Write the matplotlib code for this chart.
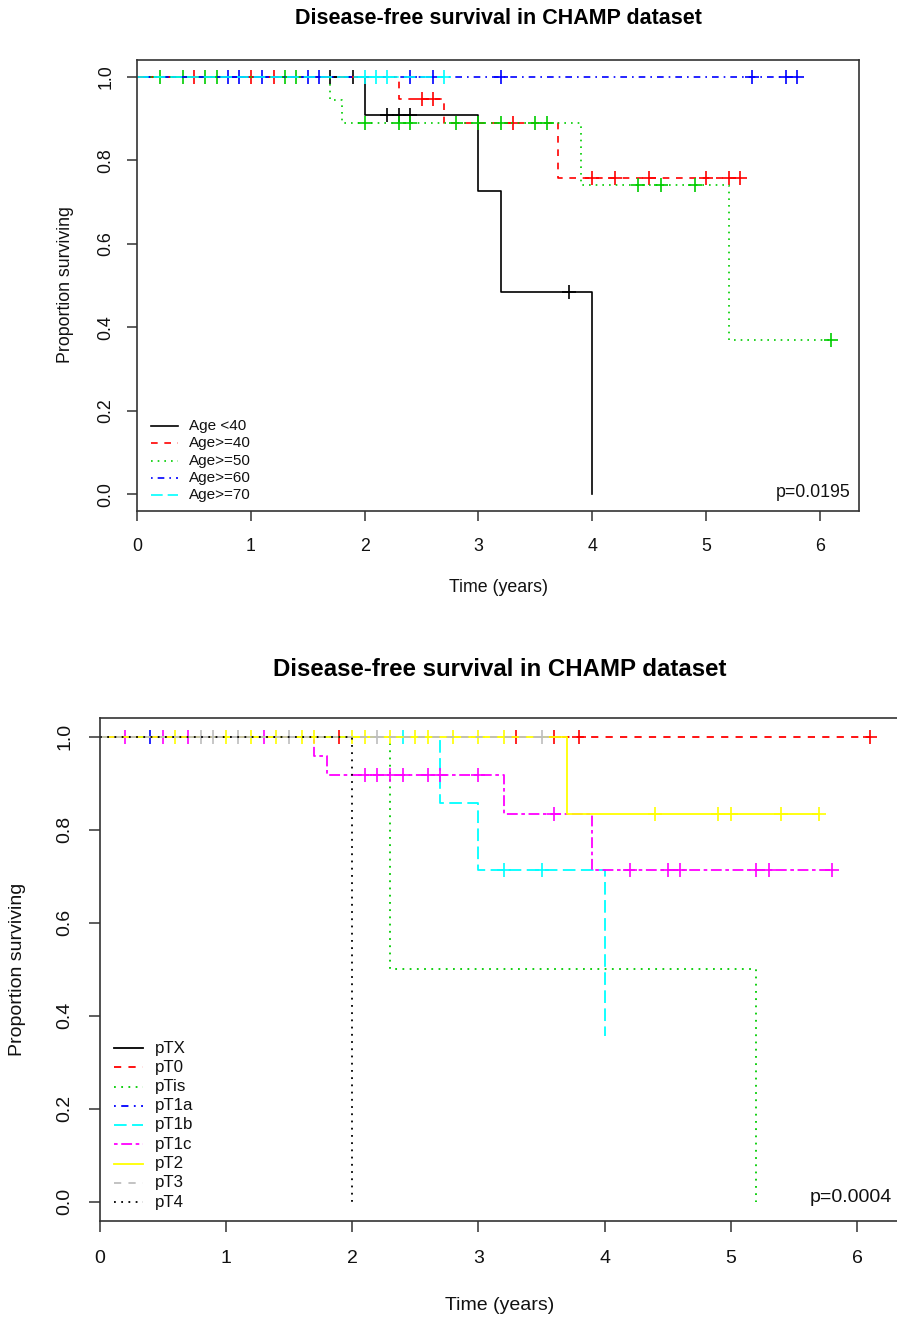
import numpy as np
import matplotlib
matplotlib.use("Agg")
import matplotlib.pyplot as plt
from matplotlib.lines import Line2D

plt.rcParams['font.family'] = ['Liberation Sans', 'DejaVu Sans']

W, H = 897, 1320
DPI = 100

# ---------------- data: top panel (Age groups) ----------------
age_labels = ["Age <40", "Age>=40", "Age>=50", "Age>=60", "Age>=70"]
age_colors = ["#000000", "#FF0000", "#00CD00", "#0000FF", "#00FFFF"]

age_lt40_events = [2.0, 3.0, 3.2, 4.0]
age_lt40_surv = [0.909, 0.727, 0.485, 0.0]
age_lt40_censor = [1.7, 1.9, 2.2, 2.3, 2.4, 3.8]
age_lt40_end = 4.0

age40_events = [2.3, 2.7, 3.7]
age40_surv = [0.947, 0.888, 0.758]
age40_censor = [0.5, 1.0, 1.2, 2.5, 2.6, 3.3, 4.0, 4.2, 4.5, 5.0, 5.2, 5.3]
age40_end = 5.3

age50_events = [1.7, 1.8, 3.9, 5.2]
age50_surv = [0.944, 0.889, 0.741, 0.370]
age50_censor = [0.2, 0.4, 0.6, 0.7, 1.3, 1.4, 2.0, 2.3, 2.4, 2.8, 3.0, 3.2,
                3.5, 3.6, 4.4, 4.6, 4.9, 6.1]
age50_end = 6.1

age60_events = []
age60_surv = []
age60_censor = [0.8, 0.9, 1.1, 1.5, 1.6, 2.4, 2.6, 3.2, 5.4, 5.7, 5.8]
age60_end = 5.8

age70_events = []
age70_surv = []
age70_censor = [2.0, 2.1, 2.2, 2.7]
age70_end = 2.7

# ---------------- data: bottom panel (pT stage) ----------------
pt_labels = ["pTX", "pT0", "pTis", "pT1a", "pT1b", "pT1c", "pT2", "pT3", "pT4"]
pt_colors = ["#000000", "#FF0000", "#00CD00", "#0000FF", "#00FFFF",
             "#FF00FF", "#FFFF00", "#BEBEBE", "#000000"]

ptx_events, ptx_surv, ptx_censor, ptx_end = [], [], [], 1.9
pt0_events, pt0_surv = [], []
pt0_censor = [1.9, 3.3, 3.6, 3.8, 6.1]
pt0_end = 6.1
ptis_events, ptis_surv, ptis_censor, ptis_end = [2.3, 5.2], [0.5, 0.0], [], 5.2
pt1a_events, pt1a_surv, pt1a_censor, pt1a_end = [], [], [0.4], 0.4
pt1b_events = [2.7, 3.0, 4.0]
pt1b_surv = [0.857, 0.714, 0.357]
pt1b_censor = [2.4, 3.2, 3.5]
pt1b_end = 4.0
pt1c_events = [1.7, 1.8, 3.2, 3.9]
pt1c_surv = [0.958, 0.917, 0.833, 0.714]
pt1c_censor = [0.2, 0.5, 0.7, 1.3, 2.1, 2.2, 2.3, 2.4, 2.6, 2.7, 3.0, 3.6,
               4.2, 4.5, 4.6, 5.2, 5.3, 5.8]
pt1c_end = 5.8
pt2_events = [3.7]
pt2_surv = [0.833]
pt2_censor = [0.6, 1.0, 1.2, 1.4, 1.6, 1.7, 2.0, 2.1, 2.3, 2.5, 2.6, 2.8,
              3.0, 3.2, 4.4, 4.9, 5.0, 5.4, 5.7]
pt2_end = 5.7
pt3_events, pt3_surv = [], []
pt3_censor = [0.8, 0.9, 1.1, 1.5, 2.2, 3.5]
pt3_end = 3.5
pt4_events, pt4_surv, pt4_censor, pt4_end = [2.0], [0.0], [], 2.0

title_text = "Disease-free survival in CHAMP dataset"
xlabel_text = "Time (years)"
ylabel_text = "Proportion surviving"
p_top = "p=0.0195"
p_bottom = "p=0.0004"
x_ticks = [0, 1, 2, 3, 4, 5, 6]
y_ticks = [0.0, 0.2, 0.4, 0.6, 0.8, 1.0]

# R line types: solid, dashed, dotted, dotdash, longdash, twodash
R_LTY = ["solid", (0, (4, 4)), (0, (1, 3)), (0, (1, 3, 4, 3)),
         (0, (7, 3)), (0, (2, 2, 6, 2))]


def lty(i):
    return R_LTY[i % 6]


fig = plt.figure(figsize=(W / DPI, H / DPI), dpi=DPI)


def px_rect(left, top, right, bottom):
    return [left / W, 1 - bottom / H, (right - left) / W, (bottom - top) / H]


def draw_curve(ax, events, surv, censor, end, color, ls, ms, lw):
    xs = [0.0] + list(events) + [end]
    last = surv[-1] if len(surv) else 1.0
    ys = [1.0] + list(surv) + [last]
    ax.step(xs, ys, where='post', color=color, ls=ls, lw=lw)
    if len(censor):
        ev = np.array(events, dtype=float)
        sv = np.array([1.0] + list(surv))
        c = np.array(censor, dtype=float)
        idx = np.searchsorted(ev, c, side='right')
        ax.plot(c, sv[idx], ls='none', marker='+', color=color,
                ms=ms, mew=1.2)


def style_axes(ax, xmax, fs, ticklen, xpad, ypad):
    ax.set_xlim(0, xmax * 1.04)
    ax.set_ylim(-0.04, 1.04)
    ax.set_xticks(x_ticks)
    ax.set_yticks(y_ticks)
    ax.set_xticklabels([str(t) for t in x_ticks])
    ax.set_yticklabels([f"{t:.1f}" for t in y_ticks], rotation=90, va='center')
    ax.tick_params(axis='x', direction='out', length=ticklen, width=1.1,
                   labelsize=fs, pad=xpad, color='#333333', labelcolor='#111111')
    ax.tick_params(axis='y', direction='out', length=ticklen, width=1.1,
                   labelsize=fs, pad=ypad, color='#333333', labelcolor='#111111')
    for s in ax.spines.values():
        s.set_color('#333333')
        s.set_linewidth(1.2)


def draw_legend(labels, colors, x0, x1, xt, y0, dy, fs, lw):
    for i, (lab, col) in enumerate(zip(labels, colors)):
        y = y0 + i * dy
        fig.add_artist(Line2D([x0 / W, x1 / W], [1 - y / H, 1 - y / H],
                              transform=fig.transFigure, color=col,
                              ls=lty(i), lw=lw))
        fig.text(xt / W, 1 - y / H, lab, fontsize=fs, ha='left',
                 va='center', color='#111111')


# ---------------- top panel ----------------
ax1 = fig.add_axes(px_rect(137, 60, 859, 511))
top_groups = [
    (age_lt40_events, age_lt40_surv, age_lt40_censor, age_lt40_end),
    (age40_events, age40_surv, age40_censor, age40_end),
    (age50_events, age50_surv, age50_censor, age50_end),
    (age60_events, age60_surv, age60_censor, age60_end),
    (age70_events, age70_surv, age70_censor, age70_end),
]
for i, (e, s, c, end) in enumerate(top_groups):
    draw_curve(ax1, e, s, c, end, age_colors[i], lty(i), ms=9.5, lw=1.2)
style_axes(ax1, 6.1, 12.8, 7.2, 12, 9)

fig.text(498 / W, 1 - 18 / H, title_text, fontsize=15.5, fontweight='bold',
         ha='center', va='center')
fig.text(498 / W, 1 - 588 / H, xlabel_text, fontsize=12.8, ha='center',
         va='center', color='#111111')
fig.text(65 / W, 1 - 285 / H, ylabel_text, fontsize=12.8, ha='center',
         va='center', rotation=90, color='#111111')
fig.text(851 / W, 1 - 492 / H, p_top, fontsize=12.8, ha='right', va='center',
         color='#111111')
draw_legend(age_labels, age_colors, 151, 178, 189, 426, 17.3, 11, 1.2)

# ---------------- bottom panel ----------------
ax2 = fig.add_axes(px_rect(99.5, 718, 900.7, 1220.5))
bottom_groups = [
    (ptx_events, ptx_surv, ptx_censor, ptx_end),
    (pt0_events, pt0_surv, pt0_censor, pt0_end),
    (ptis_events, ptis_surv, ptis_censor, ptis_end),
    (pt1a_events, pt1a_surv, pt1a_censor, pt1a_end),
    (pt1b_events, pt1b_surv, pt1b_censor, pt1b_end),
    (pt1c_events, pt1c_surv, pt1c_censor, pt1c_end),
    (pt2_events, pt2_surv, pt2_censor, pt2_end),
    (pt3_events, pt3_surv, pt3_censor, pt3_end),
    (pt4_events, pt4_surv, pt4_censor, pt4_end),
]
for i, (e, s, c, end) in enumerate(bottom_groups):
    draw_curve(ax2, e, s, c, end, pt_colors[i], lty(i), ms=10.2, lw=1.3)
style_axes(ax2, 6.1, 14, 8, 13, 11)

fig.text(500 / W, 1 - 670 / H, title_text, fontsize=17.3, fontweight='bold',
         ha='center', va='center')
fig.text(500 / W, 1 - 1305 / H, xlabel_text, fontsize=14, ha='center',
         va='center', color='#111111')
fig.text(18 / W, 1 - 969 / H, ylabel_text, fontsize=14, ha='center',
         va='center', rotation=90, color='#111111')
fig.text(891.5 / W, 1 - 1198 / H, p_bottom, fontsize=14, ha='right',
         va='center', color='#111111')
draw_legend(pt_labels, pt_colors, 114, 143, 155, 1048, 19.25, 12.2, 1.3)

fig.savefig("out.png", dpi=DPI, facecolor='white')
